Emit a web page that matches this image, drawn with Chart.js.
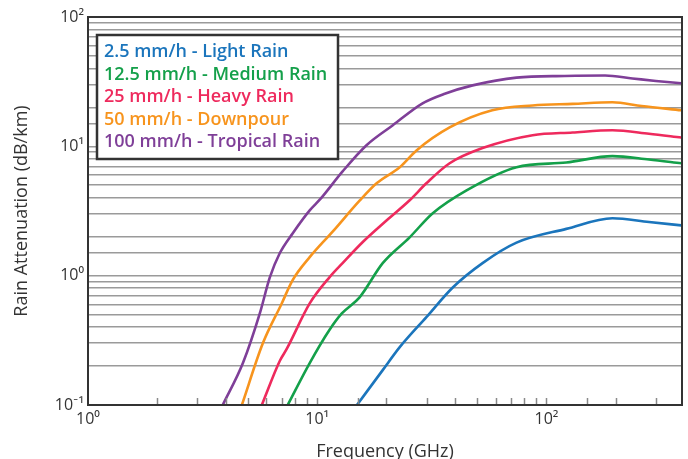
<!DOCTYPE html>
<html>
<head>
<meta charset="utf-8">
<script src="https://cdn.jsdelivr.net/npm/chart.js@4.4.1/dist/chart.umd.min.js"></script>
<style>
  html, body { margin: 0; padding: 0; background: #fff; }
  #wrap { width: 688px; height: 459px; }
</style>
</head>
<body>
<div id="wrap"><canvas id="chart" width="688" height="459"></canvas></div>
<script>
// series labels + colours (legend order)
const seriesNames = [
  "2.5 mm/h - Light Rain",
  "12.5 mm/h - Medium Rain",
  "25 mm/h - Heavy Rain",
  "50 mm/h - Downpour",
  "100 mm/h - Tropical Rain"
];
const seriesColors = ["#1b75bc", "#14a04a", "#ee2a5d", "#f7941d", "#7f3f98"];

// frequency (GHz) / attenuation (dB/km)
const lightFreq = [14.9, 19.3, 22.9, 30, 39, 52.6, 74, 122, 194, 280, 387];
const lightVals = [0.1, 0.186, 0.28, 0.48, 0.81, 1.25, 1.8, 2.3, 2.78, 2.6, 2.45];

const mediumFreq = [7.43, 9.27, 11.3, 12.8, 15.3, 19.3, 25.3, 31.9, 44.8, 74, 122, 194, 280, 387];
const mediumVals = [0.1, 0.211, 0.38, 0.51, 0.68, 1.25, 1.98, 3.04, 4.57, 6.9, 7.5, 8.4, 7.9, 7.4];

const heavyFreq = [5.73, 6.87, 7.35, 9.27, 11.3, 12.9, 15.8, 20.1, 25.3, 30, 37.8, 52.6, 87, 130, 194, 280, 387];
const heavyVals = [0.1, 0.22, 0.27, 0.61, 0.97, 1.25, 1.82, 2.68, 3.83, 5.2, 7.4, 9.7, 12.2, 12.8, 13.3, 12.5, 11.7];

const downpourFreq = [4.69, 5.79, 7.0, 7.8, 9.27, 11.7, 15.3, 18.2, 22.9, 27.1, 37.8, 58, 87, 130, 194, 260, 387];
const downpourVals = [0.1, 0.30, 0.61, 0.92, 1.39, 2.2, 3.8, 5.2, 6.9, 9.3, 14, 19, 20.7, 21.3, 21.9, 20.5, 19];

const tropicalFreq = [3.87, 4.74, 5.62, 6.21, 6.86, 7.82, 9.27, 10.3, 12.9, 16.4, 21.3, 28.8, 36, 47.6, 74, 120, 180, 237, 300, 387];
const tropicalVals = [0.1, 0.211, 0.513, 0.97, 1.49, 2.13, 3.2, 3.9, 6.4, 10.2, 14.5, 21.5, 25.5, 29.6, 34, 35, 35.3, 33.5, 32, 30.7];

// tick labels at the powers of ten
const xPowers = [0, 1, 2];
const xTickLabels = ["10⁰", "10¹", "10²"];
const yPowers = [-1, 0, 1, 2];
const yTickLabels = ["10⁻¹", "10⁰", "10¹", "10²"];

const freqs = [lightFreq, mediumFreq, heavyFreq, downpourFreq, tropicalFreq];
const vals = [lightVals, mediumVals, heavyVals, downpourVals, tropicalVals];

const FONT = "'Open Sans', Lato, sans-serif";

function powerLabel(v, powers, labels) {
  const e = Math.log10(v);
  const r = Math.round(e);
  if (Math.abs(e - r) > 1e-6) return "";
  const i = powers.indexOf(r);
  return i < 0 ? "" : labels[i];
}

// border, inward x ticks and the boxed legend
const framePlugin = {
  id: "frame",
  afterDatasetsDraw(chart) {
    const { ctx, chartArea: a, scales } = chart;
    ctx.save();
    ctx.strokeStyle = "#8a8a8a";
    ctx.lineWidth = 1.5;
    scales.x.ticks.forEach(t => {
      const px = Math.round(scales.x.getPixelForValue(t.value)) + 0.5;
      if (px <= a.left + 1 || px >= a.right - 1) return;
      ctx.beginPath();
      ctx.moveTo(px, a.bottom);
      ctx.lineTo(px, a.bottom - 7);
      ctx.stroke();
    });
    ctx.strokeStyle = "#333";
    ctx.lineWidth = 2;
    ctx.strokeRect(a.left, a.top, a.right - a.left, a.bottom - a.top);

    // legend box
    const lx = a.left + 9, ly = a.top + 18, lw = 241, lh = 124;
    ctx.fillStyle = "#fff";
    ctx.fillRect(lx, ly, lw, lh);
    ctx.lineWidth = 2.5;
    ctx.strokeStyle = "#333";
    ctx.strokeRect(lx, ly, lw, lh);
    ctx.font = "600 18px " + FONT;
    ctx.textBaseline = "middle";
    chart.data.datasets.forEach((ds, i) => {
      ctx.fillStyle = ds.borderColor;
      ctx.fillText(ds.label, lx + 7, ly + 17 + i * 22.5);
    });
    ctx.restore();
  }
};

new Chart(document.getElementById("chart"), {
  type: "line",
  data: {
    datasets: seriesNames.map((name, i) => ({
      label: name,
      data: freqs[i].map((f, j) => ({ x: f, y: vals[i][j] })),
      borderColor: seriesColors[i],
      backgroundColor: seriesColors[i],
      borderWidth: 2.6,
      pointRadius: 0,
      cubicInterpolationMode: "monotone",
      fill: false
    }))
  },
  options: {
    responsive: false,
    animation: false,
    layout: { padding: { left: 0, right: 6, top: 17, bottom: 0 } },
    plugins: {
      legend: { display: false },
      tooltip: { enabled: false }
    },
    scales: {
      x: {
        type: "logarithmic",
        min: 1,
        max: 390,
        afterFit: s => { s.height = 54; },
        grid: { display: false, drawTicks: false },
        border: { display: false },
        ticks: {
          autoSkip: false,
          maxRotation: 0,
          padding: 5,
          color: "#333",
          font: { family: FONT, size: 16 },
          callback: v => powerLabel(v, xPowers, xTickLabels)
        },
        title: {
          display: true,
          text: "Frequency (GHz)",
          color: "#333",
          font: { family: FONT, size: 18 },
          padding: { top: 0, bottom: -4 }
        }
      },
      y: {
        type: "logarithmic",
        min: 0.1,
        max: 100,
        afterFit: s => { s.width = 88; },
        grid: { color: "#9a9a9a", lineWidth: 1.6, drawTicks: false },
        border: { display: false },
        ticks: {
          autoSkip: false,
          padding: 4,
          color: "#333",
          font: { family: FONT, size: 16 },
          callback: v => powerLabel(v, yPowers, yTickLabels)
        },
        title: {
          display: true,
          text: "Rain Attenuation (dB/km)",
          color: "#333",
          font: { family: FONT, size: 18 },
          padding: { top: 11, bottom: 0 }
        }
      }
    }
  },
  plugins: [framePlugin]
});
</script>
</body>
</html>
